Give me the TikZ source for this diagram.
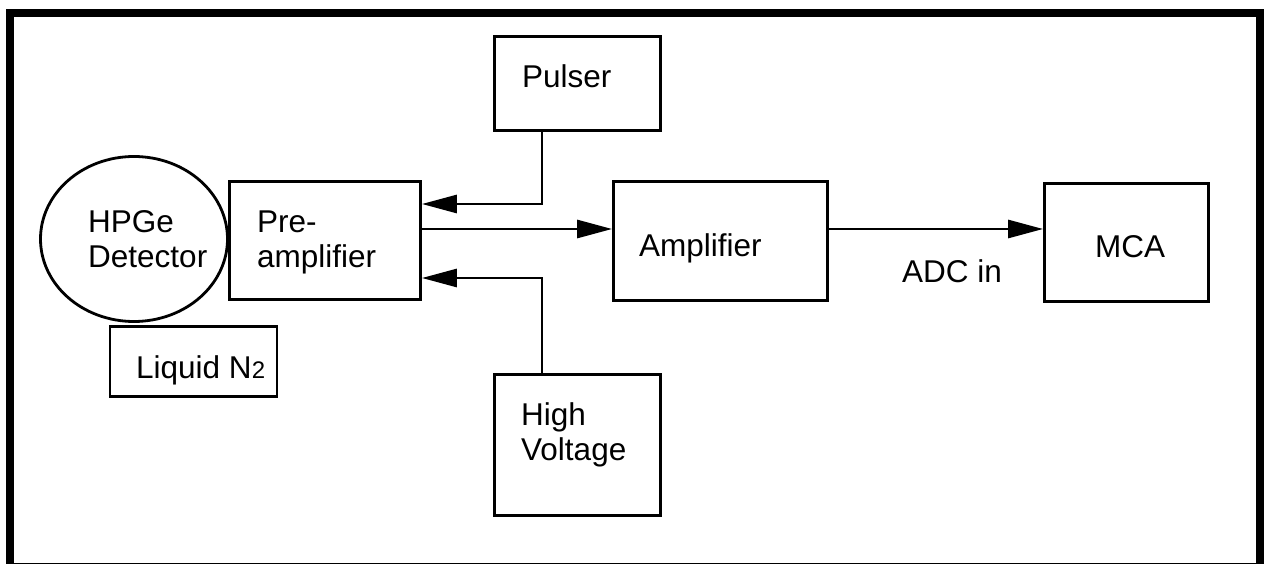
\documentclass[tikz,border=0pt]{standalone}
\usepackage{fontspec}
\setmainfont{Liberation Sans}
\usetikzlibrary{arrows.meta,shapes.geometric}
\begin{document}
\begin{tikzpicture}[x=1pt,y=-1pt,
  box/.style={draw, line width=2.8pt, inner sep=0pt},
  lbl/.style={anchor=base west, inner sep=0pt, font=\fontsize{31.5}{35}\selectfont},
  conn/.style={line width=2.8pt, -{Triangle[length=35pt,width=18pt]}}]
\useasboundingbox (0,0) rectangle (1272,564);
\draw[line width=8pt] (10,13) rectangle (1260,567);
% boxes
\node[box, minimum width=166pt, minimum height=94pt] (pulser) at (577.5,83.5) {};
\node[box, minimum width=191pt, minimum height=118pt] (preamp) at (325,240.5) {};
\node[box, minimum width=214pt, minimum height=119pt] (amp) at (720.5,241) {};
\node[box, minimum width=164pt, minimum height=118pt] (mca) at (1126.5,242.5) {};
\node[box, minimum width=166pt, minimum height=141pt] (hv) at (577.5,445) {};
\node[box, minimum width=167pt, minimum height=70pt] (liquid) at (193.5,361.5) {};
\node[box, ellipse, minimum width=187pt, minimum height=165pt] (det) at (134,239) {};
% labels
\node[lbl] (t1) at (88,233) {HPGe};
\node[lbl] (t2) at (88,268) {Detector};
\node[lbl] (t3) at (257,233) {Pre-};
\node[lbl] (t4) at (257,268) {amplifier};
\node[lbl] (t5) at (522,88) {Pulser};
\node[lbl] (t6) at (521,425) {High};
\node[lbl] (t7) at (521,460) {Voltage};
\node[lbl] (t8) at (639,257) {Amplifier};
\node[lbl] (t9) at (1095,258) {MCA};
\node[lbl] (t10) at (902,282) {ADC in};
\node[lbl] (t11) at (136,378) {Liquid N{\fontsize{24}{24}\selectfont 2}};
% connectors
\coordinate (px) at (542,0);
\coordinate (ypul) at (0,204);
\coordinate (yout) at (0,229);
\coordinate (yhv) at (0,278);
\draw[conn] (pulser.south -| px) |- (preamp.east |- ypul);
\draw[conn] (hv.north -| px) |- (preamp.east |- yhv);
\draw[conn] (preamp.east |- yout) -- (amp.west |- yout);
\draw[conn] (amp.east |- yout) -- (mca.west |- yout);
\end{tikzpicture}
\end{document}
